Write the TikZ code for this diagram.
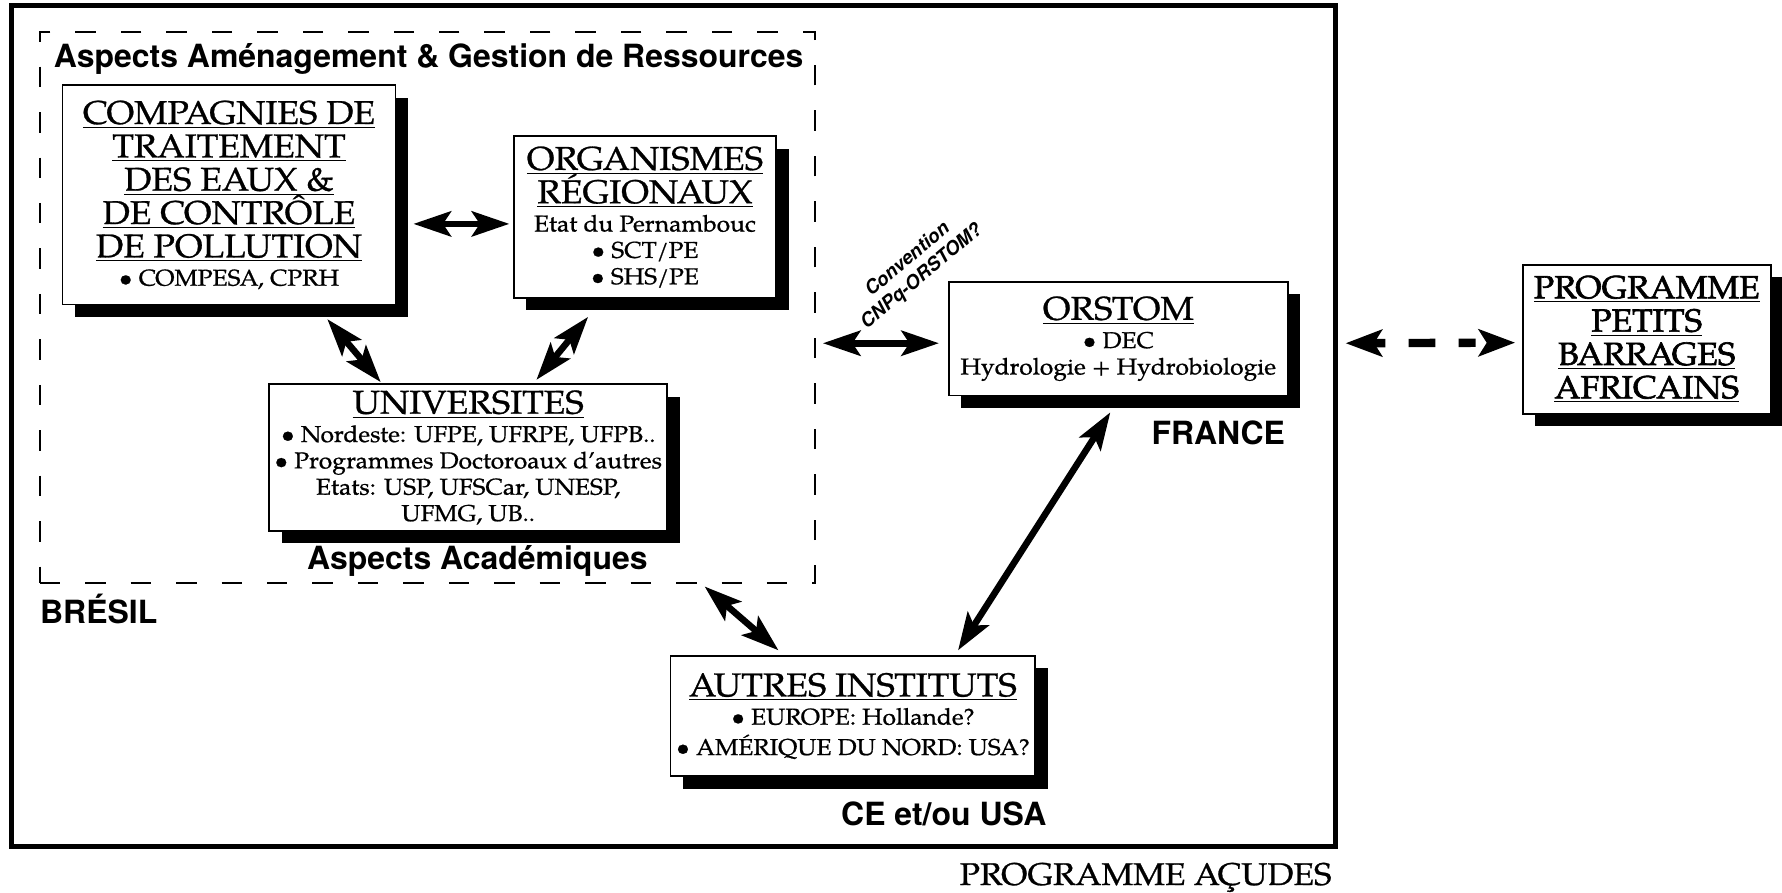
\documentclass[tikz,border=0pt]{standalone}
\usepackage{fontspec}
\setmainfont{TeX Gyre Pagella}[FakeBold=0.8, FakeStretch=1.07]
\newfontface\heavyfont{TeX Gyre Pagella}[FakeBold=2, FakeStretch=1.05]
\newfontfamily\labelfont{TeX Gyre Heros}
\usetikzlibrary{arrows.meta, calc, fit, shadows}

\newcommand{\titlesize}{\fontsize{16.5}{16.7}\selectfont}
\newcommand{\bodysize}{\fontsize{11.5}{13.2}\selectfont}
\newcommand{\boxtext}[2]{\parbox{#1}{\centering\lineskiplimit=-20pt #2}}
\newcommand{\boxhead}[1]{{\titlesize #1\par}\vspace{1pt}}
\newcommand{\boxbody}[1]{{\bodysize #1\par}}

\begin{document}
\begin{tikzpicture}[x=0.02cm, y=-0.02cm,
    box/.style={draw, line width=0.9pt, fill=white, inner sep=0pt,
      drop shadow={shadow xshift=0.22cm, shadow yshift=-0.22cm, fill=black, opacity=1}},
    boxtxt/.style={inner sep=0pt, anchor=center},
    region/.style={inner sep=0pt, font=\labelfont\bfseries\fontsize{16}{18}\selectfont},
    tip/.tip={Stealth[length=0.66cm, width=0.44cm, inset=0.14cm]},
    link/.style={line width=3.3pt, tip-tip}]
    \useasboundingbox (0,0) rectangle (1568,785);

    % frames
    \node[fit={(10,5) (1175,745)}, draw, line width=2.3pt, inner sep=0pt] (acudes) {};
    \node[fit={(35,28) (717,513)}, draw, line width=1.2pt, dash pattern=on 0.36cm off 0.44cm, inner sep=0pt] (amenag) {};

    % boxes
    \node[box, fit={(55,75) (348,268)}] (comp) {};
    \node[boxtxt] (comptxt) at (comp.center) {\boxtext{5.8cm}{%
      \boxhead{\underline{COMPAGNIES DE}\\ \underline{TRAITEMENT}\\ \underline{DES EAUX \&}\\ \underline{DE CONTRÔLE}\\ \underline{DE POLLUTION}}%
      \boxbody{\textbullet{} COMPESA, CPRH}}};
    \node[box, fit={(452,120) (683,262)}] (org) {};
    \node[boxtxt] (orgtxt) at (org.center) {\boxtext{4.6cm}{%
      \boxhead{\underline{ORGANISMES}\\ \underline{RÉGIONAUX}}%
      \boxbody{Etat du Pernambouc\\ \textbullet{} SCT/PE\\ \textbullet{} SHS/PE}}};
    \node[box, fit={(237,338) (587,467)}] (univ) {};
    \node[boxtxt] (univtxt) at (univ.center) {\boxtext{7cm}{%
      \boxhead{\underline{UNIVERSITES}}%
      \boxbody{\textbullet{} Nordeste: UFPE, UFRPE, UFPB..\\ \textbullet{} Programmes Doctoroaux d'autres\\ Etats: USP, UFSCar, UNESP,\\ UFMG, UB..}}};
    \node[box, fit={(835,248) (1133,348)}] (orstom) {};
    \node[boxtxt] (orstomtxt) at (orstom.center) {\boxtext{5.9cm}{%
      \boxhead{\underline{ORSTOM}}%
      \boxbody{\textbullet{} DEC\\ Hydrologie + Hydrobiologie}}};
    \node[box, fit={(590,577) (911,683)}] (autres) {};
    \node[boxtxt] (autrestxt) at (autres.center) {\boxtext{6.4cm}{%
      \boxhead{\underline{AUTRES INSTITUTS}}%
      \boxbody{\textbullet{} EUROPE: Hollande?\\[2pt] \textbullet{} AMÉRIQUE DU NORD: USA?}}};
    \node[box, fit={(1340,233) (1558,364)}] (ppba) {};
    \node[boxtxt] (ppbatxt) at (ppba.center) {\boxtext{4.3cm}{%
      {\heavyfont\fontsize{16}{16.7}\selectfont \underline{PROGRAMME}\\ \underline{PETITS}\\ \underline{BARRAGES}\\ \underline{AFRICAINS}\par}}};

    % labels
    \node[region, anchor=west] (amenlabel) at (47,52) {Aspects Aménagement \& Gestion de Ressources};
    \node[region] (acadlabel) at (420,494) {Aspects Académiques};
    \node[region, anchor=west] (bresil) at (35,536) {BRÉSIL};
    \node[region, anchor=east] (france) at (1131,381) {FRANCE};
    \node[region, anchor=east] (ceusa) at (921,716) {CE et/ou USA};
    \node[anchor=east, inner sep=0pt, font=\fontsize{15.7}{17}\selectfont] (acudeslabel) at (1172,772) {PROGRAMME AÇUDES};
    \node[rotate=40, align=center, inner sep=0pt, font=\labelfont\bfseries\itshape\fontsize{9.5}{11}\selectfont] (convention) at (805,236) {Convention\\CNPq-ORSTOM?};

    % links
    \draw[link] ($(comp.east)+(15,25.5)$) -- ($(org.west)+(-3,6)$);
    \draw[link] ($(comp.south)+(86.5,12)$) -- ($(univ.north)+(-77,-1)$);
    \draw[link] ($(org.south)+(-50,16)$) -- ($(univ.north)+(60,-3)$);
    \draw[link] ($(amenag.east)+(6,31.5)$) -- ($(orstom.west)+(-8,4)$);
    \draw[link] ($(orstom.south)+(-7,14)$) -- ($(autres.north)+(92.5,-4)$);
    \draw[link] ($(amenag.south)+(244,2)$) -- ($(autres.north)+(-65.5,-4)$);
    \draw[line width=4.2pt, dash pattern=on 0.24cm off 0.41cm on 0.47cm off 0.41cm on 0.3cm,
      {Stealth[length=0.64cm, width=0.47cm, inset=0.14cm]}-{Stealth[length=0.64cm, width=0.47cm, inset=0.14cm]}]
      ($(acudes.east)+(7,-73)$) -- ($(ppba.west)+(-6,3)$);
\end{tikzpicture}
\end{document}
